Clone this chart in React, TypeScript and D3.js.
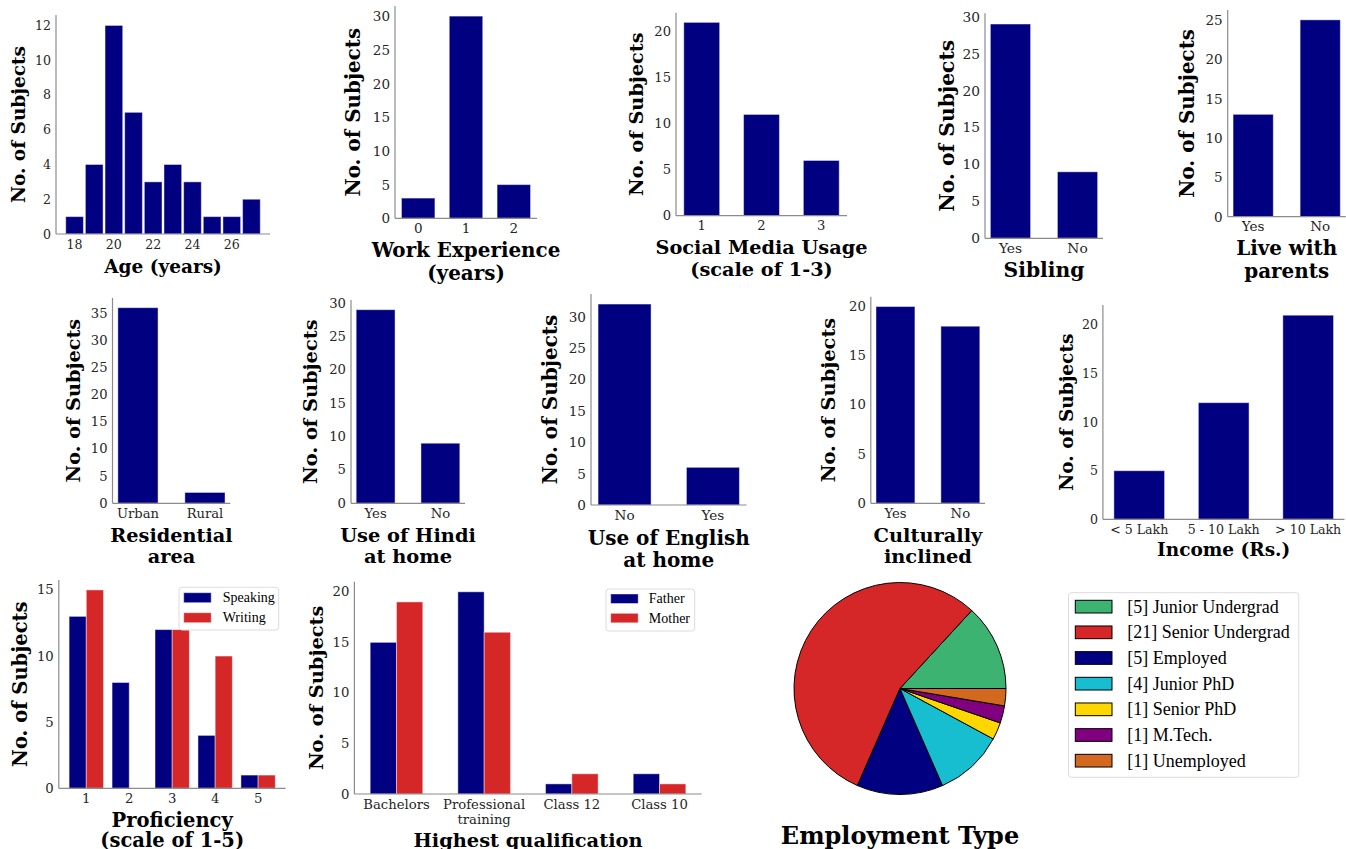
import React from 'react';
import * as d3 from 'd3';

// ---------- data ----------
const ageYears = [18, 19, 20, 21, 22, 23, 24, 25, 26, 27];
const ageCounts = [1, 4, 12, 7, 3, 4, 3, 1, 1, 2];
const ageTicks = [18, 20, 22, 24, 26];

const workCats = ['0', '1', '2'];
const workCounts = [3, 30, 5];

const socialCats = ['1', '2', '3'];
const socialCounts = [21, 11, 6];

const siblingCats = ['Yes', 'No'];
const siblingCounts = [29, 9];

const parentsCats = ['Yes', 'No'];
const parentsCounts = [13, 25];

const residentialCats = ['Urban', 'Rural'];
const residentialCounts = [36, 2];

const hindiCats = ['Yes', 'No'];
const hindiCounts = [29, 9];

const englishCats = ['No', 'Yes'];
const englishCounts = [32, 6];

const cultureCats = ['Yes', 'No'];
const cultureCounts = [20, 18];

const incomeCats = ['< 5 Lakh', '5 - 10 Lakh', '> 10 Lakh'];
const incomeCounts = [5, 12, 21];

const profLevels = ['1', '2', '3', '4', '5'];
const profSpeaking = [13, 8, 12, 4, 1];
const profWriting = [15, 0, 12, 10, 1];
const profSeries = ['Speaking', 'Writing'];

const qualCats = ['Bachelors', 'Professional\ntraining', 'Class 12', 'Class 10'];
const qualFather = [15, 20, 1, 2];
const qualMother = [19, 16, 2, 1];
const qualSeries = ['Father', 'Mother'];

const empLabels = ['Junior Undergrad', 'Senior Undergrad', 'Employed', 'Junior PhD', 'Senior PhD', 'M.Tech.', 'Unemployed'];
const empCounts = [5, 21, 5, 4, 1, 1, 1];
const empColors = ['#3cb371', '#d62728', '#000080', '#17becf', '#ffd700', '#800080', '#d2691e'];

// ---------- style / layout ----------
const NAVY = '#000080';
const RED = '#d62728';
const SERIF = "'DejaVu Serif', serif";
const TIMES = "'Liberation Serif', 'Times New Roman', serif";
const SPINE = '#8c8c8c';
const TICKC = '#262626';
const EDGE = 'rgba(255,255,255,0.45)';

type Layout = { l: number; r: number; t: number; b: number; fs: number; ylx: number; xl: string[]; xly: number[]; step: number };

const L1: Layout = { l: 56, r: 270, t: 15, b: 234, fs: 18.5, ylx: 18, xl: ['Age (years)'], xly: [266], step: 2 };
const L2: Layout = { l: 395, r: 537, t: 6, b: 218.3, fs: 19.9, ylx: 353, xl: ['Work Experience', '(years)'], xly: [250, 273], step: 5 };
const L3: Layout = { l: 676, r: 847, t: 12.7, b: 215.7, fs: 19.3, ylx: 636.7, xl: ['Social Media Usage', '(scale of 1-3)'], xly: [247, 269], step: 5 };
const L4: Layout = { l: 985, r: 1103, t: 13.3, b: 238.3, fs: 20.3, ylx: 946.7, xl: ['Sibling'], xly: [270], step: 5 };
const L5: Layout = { l: 1227.7, r: 1345.7, t: 10, b: 216.7, fs: 19.9, ylx: 1186.7, xl: ['Live with', 'parents'], xly: [248, 271], step: 5 };
const L6: Layout = { l: 112.5, r: 230.4, t: 297.9, b: 503.3, fs: 19.3, ylx: 73.2, xl: ['Residential', 'area'], xly: [535.7, 556.7], step: 5 };
const L7: Layout = { l: 351, r: 465, t: 300, b: 503.3, fs: 19.4, ylx: 310.7, xl: ['Use of Hindi', 'at home'], xly: [535.7, 556.7], step: 5 };
const L8: Layout = { l: 591, r: 746.5, t: 294, b: 505, fs: 20, ylx: 550, xl: ['Use of English', 'at home'], xly: [538.3, 560], step: 5 };
const L9: Layout = { l: 870.8, r: 985, t: 296.7, b: 503.3, fs: 19.4, ylx: 828, xl: ['Culturally', 'inclined'], xly: [535.7, 556.7], step: 5 };
const L10: Layout = { l: 1102.9, r: 1344.5, t: 305, b: 519.3, fs: 18.5, ylx: 1066, xl: ['Income (Rs.)'], xly: [549.3], step: 5 };
const L11: Layout = { l: 58.8, r: 285.6, t: 580, b: 788.3, fs: 19.5, ylx: 20.7, xl: ['Proficiency', '(scale of 1-5)'], xly: [820.7, 840.7], step: 5 };
const L12: Layout = { l: 354.4, r: 701.6, t: 581.7, b: 794, fs: 19.4, ylx: 316.8, xl: ['Highest qualification'], xly: [840], step: 5 };

type Tick = { pos: number; label: string };

function Frame({ L, y, maxV, xTicks }: { L: Layout; y: d3.ScaleLinear<number, number>; maxV: number; xTicks: Tick[] }) {
  const tfs = L.fs * 0.68;
  const yTicks = d3.range(0, maxV * 1.05 + 1e-9, L.step);
  const cy = (L.t + L.b) / 2;
  const cx = (L.l + L.r) / 2;
  return (
    <g>
      <line x1={L.l} x2={L.l} y1={L.t} y2={L.b} stroke={SPINE} strokeWidth={1.2} />
      <line x1={L.l} x2={L.r} y1={L.b} y2={L.b} stroke={SPINE} strokeWidth={1.2} />
      {yTicks.map((v) => (
        <text key={'y' + v} x={L.l - 5} y={y(v)} textAnchor="end" dominantBaseline="central" fontFamily={SERIF} fontSize={tfs} fill={TICKC}>
          {v}
        </text>
      ))}
      {xTicks.map((tk, i) => {
        const lines = tk.label.split('\n');
        return (
          <text key={'x' + i} x={tk.pos} y={L.b + 9.5} textAnchor="middle" dominantBaseline="central" fontFamily={SERIF} fontSize={tfs} fill={TICKC}>
            {lines.map((ln, j) => (
              <tspan key={j} x={tk.pos} dy={j === 0 ? 0 : tfs * 1.2}>
                {ln}
              </tspan>
            ))}
          </text>
        );
      })}
      <text transform={`translate(${L.ylx},${cy}) rotate(-90)`} textAnchor="middle" dominantBaseline="central" fontFamily={SERIF} fontWeight="bold" fontSize={L.fs} fill="#000">
        No. of Subjects
      </text>
      {L.xl.map((s, i) => (
        <text key={'xl' + i} x={cx} y={L.xly[i]} textAnchor="middle" dominantBaseline="central" fontFamily={SERIF} fontWeight="bold" fontSize={L.fs} fill="#000">
          {s}
        </text>
      ))}
    </g>
  );
}

function CatBars({ L, cats, vals, w = 0.6 }: { L: Layout; cats: string[]; vals: number[]; w?: number }) {
  const n = cats.length;
  const m = 0.05 * (n - 1 + w);
  const x = d3.scaleLinear().domain([-w / 2 - m, n - 1 + w / 2 + m]).range([L.l, L.r]);
  const maxV = d3.max(vals) as number;
  const y = d3.scaleLinear().domain([0, maxV * 1.05]).range([L.b, L.t]);
  return (
    <g>
      {vals.map((v, i) => (
        <rect key={i} x={x(i - w / 2)} width={x(i + w / 2) - x(i - w / 2)} y={y(v)} height={y(0) - y(v)} fill={NAVY} stroke={EDGE} strokeWidth={1} />
      ))}
      <Frame L={L} y={y} maxV={maxV} xTicks={cats.map((c, i) => ({ pos: x(i), label: c }))} />
    </g>
  );
}

function AgeHist({ L }: { L: Layout }) {
  const w = 0.9;
  const lo = d3.min(ageYears)! - w / 2;
  const hi = d3.max(ageYears)! + w / 2;
  const m = 0.05 * (hi - lo);
  const x = d3.scaleLinear().domain([lo - m, hi + m]).range([L.l, L.r]);
  const maxV = d3.max(ageCounts) as number;
  const y = d3.scaleLinear().domain([0, maxV * 1.05]).range([L.b, L.t]);
  return (
    <g>
      {ageCounts.map((v, i) => (
        <rect key={i} x={x(ageYears[i] - w / 2)} width={x(ageYears[i] + w / 2) - x(ageYears[i] - w / 2)} y={y(v)} height={y(0) - y(v)} fill={NAVY} stroke={EDGE} strokeWidth={1} />
      ))}
      <Frame L={L} y={y} maxV={maxV} xTicks={ageTicks.map((a) => ({ pos: x(a), label: String(a) }))} />
    </g>
  );
}

function Legend({ x0, y0, w, h, names, colors, px, pw, ph, pys, tx, fs }: { x0: number; y0: number; w: number; h: number; names: string[]; colors: string[]; px: number; pw: number; ph: number; pys: number[]; tx: number; fs: number }) {
  return (
    <g>
      <rect x={x0} y={y0} width={w} height={h} rx={3} fill="#fff" fillOpacity={0.8} stroke="#dcdcdc" strokeWidth={1} />
      {names.map((nm, i) => (
        <g key={i}>
          <rect x={px} y={pys[i]} width={pw} height={ph} fill={colors[i]} stroke={EDGE} />
          <text x={tx} y={pys[i] + ph / 2} dominantBaseline="central" fontFamily={TIMES} fontSize={fs} fill="#000">
            {nm}
          </text>
        </g>
      ))}
    </g>
  );
}

function GroupBars({ L, cats, a, b, w, numeric, names, legend }: { L: Layout; cats: string[]; a: number[]; b: number[]; w: number; numeric: boolean; names: string[]; legend: any }) {
  const n = cats.length;
  const span = n - 1 + 2 * w;
  const m = 0.05 * span;
  const x = d3.scaleLinear().domain([-w - m, n - 1 + w + m]).range([L.l, L.r]);
  const maxV = Math.max(d3.max(a) as number, d3.max(b) as number);
  const y = d3.scaleLinear().domain([0, maxV * 1.05]).range([L.b, L.t]);
  return (
    <g>
      {a.map((v, i) => (
        <rect key={'a' + i} x={x(i - w)} width={x(i) - x(i - w)} y={y(v)} height={y(0) - y(v)} fill={NAVY} stroke={EDGE} strokeWidth={1} />
      ))}
      {b.map((v, i) =>
        v > 0 ? <rect key={'b' + i} x={x(i)} width={x(i + w) - x(i)} y={y(v)} height={y(0) - y(v)} fill={RED} stroke={EDGE} strokeWidth={1} /> : null
      )}
      <Frame L={L} y={y} maxV={maxV} xTicks={cats.map((c, i) => ({ pos: x(i), label: c }))} />
      <Legend {...legend} names={names} colors={[NAVY, RED]} />
    </g>
  );
}

function Pie() {
  const cx = 900;
  const cy = 688.5;
  const r = 106;
  const pie = d3
    .pie<number>()
    .sort(null)
    .value((d) => d)
    .startAngle(Math.PI / 2)
    .endAngle(Math.PI / 2 - 2 * Math.PI);
  const arcs = pie(empCounts);
  const arc = d3.arc<d3.PieArcDatum<number>>().innerRadius(0).outerRadius(r);
  const legendNames = empLabels.map((l, i) => `[${empCounts[i]}] ${l}`);
  const rowH = 25.67;
  return (
    <g>
      <g transform={`translate(${cx},${cy})`}>
        {arcs.map((a, i) => (
          <path key={i} d={arc(a) as string} fill={empColors[i]} stroke="#000" strokeWidth={1} strokeLinejoin="round" />
        ))}
      </g>
      <text x={cx} y={835} textAnchor="middle" dominantBaseline="central" fontFamily={SERIF} fontWeight="bold" fontSize={24} fill="#000">
        Employment Type
      </text>
      <rect x={1068.5} y={592.7} width={230.3} height={184.6} rx={3} fill="#fff" stroke="#dcdcdc" strokeWidth={1} />
      {legendNames.map((nm, i) => (
        <g key={i}>
          <rect x={1075.3} y={600.3 + i * rowH} width={36.7} height={12.7} fill={empColors[i]} stroke="#000" strokeWidth={1} />
          <text x={1127.2} y={606.7 + i * rowH} dominantBaseline="central" fontFamily={TIMES} fontSize={18} fill="#000">
            {nm}
          </text>
        </g>
      ))}
    </g>
  );
}

export default function App() {
  return (
    <svg width={1346} height={849} viewBox="0 0 1346 849" style={{ position: 'absolute', left: 0, top: 0, background: '#fff' }}>
      <rect x={0} y={0} width={1346} height={849} fill="#fff" />
      <AgeHist L={L1} />
      <CatBars L={L2} cats={workCats} vals={workCounts} w={0.7} />
      <CatBars L={L3} cats={socialCats} vals={socialCounts} />
      <CatBars L={L4} cats={siblingCats} vals={siblingCounts} />
      <CatBars L={L5} cats={parentsCats} vals={parentsCounts} />
      <CatBars L={L6} cats={residentialCats} vals={residentialCounts} />
      <CatBars L={L7} cats={hindiCats} vals={hindiCounts} />
      <CatBars L={L8} cats={englishCats} vals={englishCounts} />
      <CatBars L={L9} cats={cultureCats} vals={cultureCounts} />
      <CatBars L={L10} cats={incomeCats} vals={incomeCounts} />
      <GroupBars
        L={L11}
        cats={profLevels}
        a={profSpeaking}
        b={profWriting}
        w={0.4}
        numeric
        names={profSeries}
        legend={{ x0: 179, y0: 587.3, w: 99.7, h: 42.7, px: 183.7, pw: 27.5, ph: 10, pys: [592.7, 612.7], tx: 222.7, fs: 14 }}
      />
      <GroupBars
        L={L12}
        cats={qualCats}
        a={qualFather}
        b={qualMother}
        w={0.3}
        numeric={false}
        names={qualSeries}
        legend={{ x0: 606, y0: 589, w: 88.7, h: 42, px: 610.7, pw: 27.5, ph: 9.5, pys: [594, 613.3], tx: 648.8, fs: 14 }}
      />
      <Pie />
    </svg>
  );
}
